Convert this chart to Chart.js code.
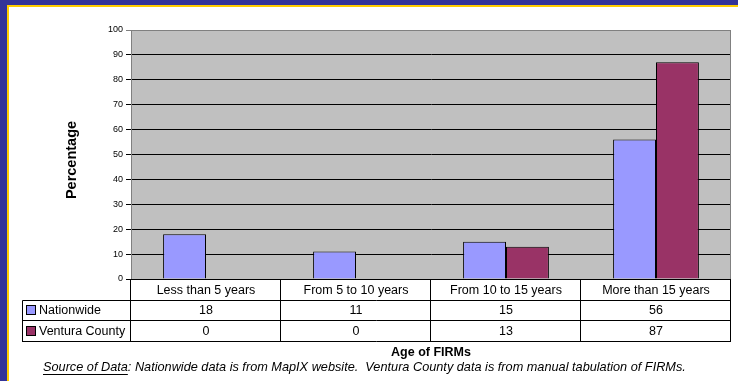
<!DOCTYPE html>
<html>
<head>
<meta charset="utf-8">
<script src="https://cdn.jsdelivr.net/npm/chart.js@4/dist/chart.umd.min.js"></script>
<style>
html,body{margin:0;padding:0;background:#fff;}
canvas{display:block;}
</style>
</head>
<body>
<canvas id="c" width="738" height="381"></canvas>
<script>
const categories = ['Less than 5 years', 'From 5 to 10 years', 'From 10 to 15 years', 'More than 15 years'];
const seriesNames = ['Nationwide', 'Ventura County'];
const nationwide = [18, 11, 15, 56];
const ventura = [0, 0, 13, 87];
const yMin = 0, yMax = 100, yStep = 10;
const xTitle = 'Age of FIRMs';
const yTitle = 'Percentage';
const sourceLabel = 'Source of Data';
const sourceText = ': Nationwide data is from MapIX website.  Ventura County data is from manual tabulation of FIRMs.';

const colors = ['#9999FF', '#993366'];
const FONT = '"Liberation Sans", Arial, sans-serif';

const framePlugin = {
  id: 'frame',
  beforeDraw(chart) {
    const ctx = chart.ctx, a = chart.chartArea;
    ctx.save();
    ctx.fillStyle = '#fff';
    ctx.fillRect(0, 0, chart.width, chart.height);
    ctx.fillStyle = '#333399';
    ctx.fillRect(0, 0, chart.width, 5);
    ctx.fillRect(0, 0, 7, chart.height);
    ctx.fillStyle = '#FFCC00';
    ctx.fillRect(7, 5, chart.width - 7, 2);
    ctx.fillRect(7, 5, 2, chart.height - 5);
    ctx.fillStyle = '#C0C0C0';
    ctx.fillRect(a.left, a.top, a.right - a.left, a.bottom - a.top);
    ctx.restore();
  },
  afterDraw(chart) {
    const ctx = chart.ctx, a = chart.chartArea, xs = chart.scales.x;
    ctx.save();
    ctx.strokeStyle = '#808080';
    ctx.lineWidth = 1;
    ctx.beginPath();
    ctx.moveTo(a.left, a.top + 0.5); ctx.lineTo(a.right - 0.5, a.top + 0.5);
    ctx.lineTo(a.right - 0.5, a.bottom);
    ctx.stroke();

    // data table
    const n = categories.length;
    const cw = (a.right - a.left) / n;
    const rowH = 20.6;
    const y0 = a.bottom, y1 = y0 + rowH, y2 = y1 + rowH, y3 = y2 + rowH;
    const legLeft = 22.5;
    ctx.strokeStyle = '#000';
    ctx.beginPath();
    ctx.moveTo(a.left, Math.round(y0) + 0.5); ctx.lineTo(a.right, Math.round(y0) + 0.5);
    [y1, y2, y3].forEach(y => { ctx.moveTo(legLeft, Math.round(y) + 0.5); ctx.lineTo(a.right, Math.round(y) + 0.5); });
    for (let i = 0; i <= n; i++) {
      const x = Math.round(a.left + i * cw) - 0.5;
      ctx.moveTo(x, y0); ctx.lineTo(x, Math.round(y3) + 0.5);
    }
    ctx.moveTo(legLeft, Math.round(y1) + 0.5); ctx.lineTo(legLeft, Math.round(y3) + 1);
    ctx.stroke();

    ctx.fillStyle = '#000';
    ctx.font = '12.5px ' + FONT;
    ctx.textAlign = 'center';
    ctx.textBaseline = 'middle';
    const rows = [nationwide, ventura];
    categories.forEach((c, i) => {
      const cx = xs.getPixelForValue(i);
      ctx.fillText(c, cx, (y0 + y1) / 2 + 1);
      rows.forEach((r, k) => {
        ctx.fillText(String(r[i]), cx, (k === 0 ? (y1 + y2) / 2 : (y2 + y3) / 2) + 1);
      });
    });
    ctx.textAlign = 'left';
    seriesNames.forEach((s, k) => {
      const cy = k === 0 ? (y1 + y2) / 2 : (y2 + y3) / 2;
      ctx.fillStyle = colors[k];
      ctx.fillRect(27, Math.round(cy) - 4, 8, 8);
      ctx.strokeStyle = '#000';
      ctx.strokeRect(26.5, Math.round(cy) - 4.5, 9, 9);
      ctx.fillStyle = '#000';
      ctx.fillText(s, 39, cy + 1);
    });

    // x title
    ctx.font = 'bold 12.5px ' + FONT;
    ctx.textAlign = 'center';
    ctx.fillText(xTitle, (a.left + a.right) / 2, 353);

    // y title
    ctx.save();
    ctx.translate(72, 160);
    ctx.rotate(-Math.PI / 2);
    ctx.font = 'bold 14.5px ' + FONT;
    ctx.fillText(yTitle, 0, 0);
    ctx.restore();

    // source note, fitted to the reference's span
    ctx.font = 'italic 12px ' + FONT;
    let wAll = ctx.measureText(sourceLabel + sourceText).width;
    const fs = 12 * 643 / wAll;
    ctx.font = 'italic ' + fs.toFixed(2) + 'px ' + FONT;
    ctx.textAlign = 'left';
    const w1 = ctx.measureText(sourceLabel).width;
    const sx = 43;
    ctx.fillText(sourceLabel, sx, 367);
    ctx.fillText(sourceText, sx + w1, 367);
    ctx.fillRect(sx, 374, w1, 1);
    ctx.restore();
  }
};

new Chart(document.getElementById('c'), {
  type: 'bar',
  data: {
    labels: categories,
    datasets: [
      { label: seriesNames[0], data: nationwide, backgroundColor: colors[0], borderColor: '#000', borderWidth: 1, borderSkipped: 'start', categoryPercentage: 0.572, barPercentage: 1 },
      { label: seriesNames[1], data: ventura, backgroundColor: colors[1], borderColor: '#000', borderWidth: 1, borderSkipped: 'start', categoryPercentage: 0.572, barPercentage: 1 }
    ]
  },
  options: {
    responsive: false,
    animation: false,
    devicePixelRatio: 1,
    layout: { padding: { left: 101, right: 7, top: 30, bottom: 102 } },
    plugins: { legend: { display: false }, tooltip: { enabled: false }, title: { display: false } },
    scales: {
      x: {
        ticks: { display: false },
        grid: { display: false },
        border: { display: false },
        afterFit(s) { s.height = 0; }
      },
      y: {
        min: yMin, max: yMax,
        ticks: { stepSize: yStep, color: '#000', font: { family: FONT, size: 9 }, padding: 3 },
        grid: {
          color: (c) => (c.tick && c.tick.value === yMax) ? '#808080' : '#000',
          lineWidth: 1,
          tickLength: 5,
          drawTicks: true
        },
        border: { display: true, color: '#808080', width: 1 },
        afterFit(s) { s.width = 30; }
      }
    }
  },
  plugins: [framePlugin]
});
</script>
</body>
</html>
